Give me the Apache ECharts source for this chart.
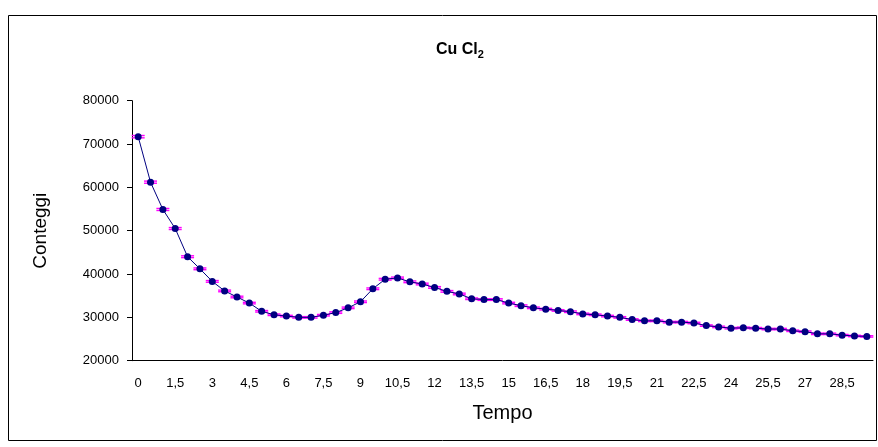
<!DOCTYPE html>
<html>
<head>
<meta charset="utf-8">
<script src="https://cdn.jsdelivr.net/npm/echarts@6/dist/echarts.min.js"></script>
<style>
  html, body { margin: 0; padding: 0; background: #fff; }
  #grafico { width: 878px; height: 447px; }
</style>
</head>
<body>
<div id="grafico"></div>
<script>
// tempo (categorie, passo 0,5)
var tempi = ['0', '0,5', '1', '1,5', '2', '2,5', '3', '3,5', '4', '4,5',
    '5', '5,5', '6', '6,5', '7', '7,5', '8', '8,5', '9', '9,5',
    '10', '10,5', '11', '11,5', '12', '12,5', '13', '13,5', '14', '14,5',
    '15', '15,5', '16', '16,5', '17', '17,5', '18', '18,5', '19', '19,5',
    '20', '20,5', '21', '21,5', '22', '22,5', '23', '23,5', '24', '24,5',
    '25', '25,5', '26', '26,5', '27', '27,5', '28', '28,5', '29', '29,5'];

// conteggi
var conteggi = [71700, 61200, 54900, 50500, 44000, 41200, 38300, 36100, 34700, 33300,
    31400, 30600, 30300, 30000, 30000, 30500, 31100, 32200, 33600, 36600,
    38800, 39100, 38200, 37700, 36900, 36000, 35400, 34300, 34100, 34100,
    33300, 32700, 32200, 31900, 31600, 31300, 30800, 30600, 30300, 30000,
    29500, 29200, 29200, 28900, 28900, 28700, 28100, 27800, 27500, 27600,
    27500, 27300, 27300, 26900, 26700, 26200, 26200, 25900, 25700, 25600];

// errori (barre rosa)
var errori = [268, 247, 234, 225, 210, 203, 196, 190, 186, 182,
    177, 175, 174, 173, 173, 175, 176, 179, 183, 191,
    197, 198, 195, 194, 192, 190, 188, 185, 185, 185,
    182, 181, 179, 179, 178, 177, 175, 175, 174, 173,
    172, 171, 171, 170, 170, 169, 168, 167, 166, 166,
    166, 165, 165, 164, 163, 162, 162, 161, 160, 160];

var yTicks = [20000, 30000, 40000, 50000, 60000, 70000, 80000];

var chartDom = document.getElementById('grafico');
var myChart = echarts.init(chartDom);

var datiErrori = conteggi.map(function (v, i) {
    return [i, v - errori[i], v + errori[i]];
});

var option = {
    animation: false,
    textStyle: { fontFamily: 'Liberation Sans, Arial, sans-serif' },
    graphic: [{
        type: 'rect',
        shape: { x: 8.5, y: 15.5, width: 868, height: 425 },
        style: { fill: 'none', stroke: '#000', lineWidth: 1 },
        silent: true
    }],
    title: {
        text: '{a|Cu Cl}{b|2}',
        left: 431,
        top: 35,
        textStyle: {
            rich: {
                a: { fontSize: 16, fontWeight: 'bold', color: '#000', fontFamily: 'Liberation Sans' },
                b: { fontSize: 11, fontWeight: 'bold', color: '#000', fontFamily: 'Liberation Sans', verticalAlign: 'bottom', padding: [9, 0, 0, 0] }
            }
        }
    },
    grid: { left: 132, right: 5, top: 100.7, bottom: 86.3 },
    xAxis: {
        type: 'category',
        data: tempi,
        boundaryGap: true,
        name: 'Tempo',
        nameLocation: 'middle',
        nameGap: 43,
        nameTextStyle: { fontSize: 20, color: '#000', fontFamily: 'Liberation Sans' },
        axisLine: { lineStyle: { color: '#000', width: 1 } },
        axisTick: { interval: 2, length: 5, lineStyle: { color: '#000' } },
        axisLabel: { interval: 2, fontSize: 13, color: '#000', margin: 16, fontFamily: 'Liberation Sans' },
        splitLine: { show: false }
    },
    yAxis: {
        type: 'value',
        min: yTicks[0],
        max: yTicks[yTicks.length - 1],
        interval: 10000,
        name: 'Conteggi',
        nameLocation: 'middle',
        nameGap: 82,
        nameTextStyle: { fontSize: 19, color: '#000', fontFamily: 'Liberation Sans' },
        axisLine: { show: true, lineStyle: { color: '#000', width: 1 } },
        axisTick: { show: true, length: 5, lineStyle: { color: '#000' } },
        axisLabel: {
            fontSize: 13, color: '#000', margin: 13, fontFamily: 'Liberation Sans',
            formatter: function (v) { return String(v); }
        },
        splitLine: { show: false }
    },
    series: [
        {
            type: 'custom',
            name: 'errori',
            data: datiErrori,
            encode: { x: 0, y: [1, 2] },
            z: 2,
            renderItem: function (params, api) {
                var i = api.value(0);
                var lo = api.coord([i, api.value(1)]);
                var hi = api.coord([i, api.value(2)]);
                var w = 6.5;
                var st = { stroke: '#FF00FF', lineWidth: 1.4 };
                return {
                    type: 'group',
                    children: [
                        { type: 'line', shape: { x1: lo[0], y1: lo[1], x2: hi[0], y2: hi[1] }, style: st },
                        { type: 'line', shape: { x1: lo[0] - w, y1: lo[1], x2: lo[0] + w, y2: lo[1] }, style: st },
                        { type: 'line', shape: { x1: hi[0] - w, y1: hi[1], x2: hi[0] + w, y2: hi[1] }, style: st }
                    ]
                };
            }
        },
        {
            type: 'line',
            name: 'Cu Cl2',
            data: conteggi,
            z: 3,
            symbol: 'circle',
            symbolSize: 7,
            lineStyle: { color: '#000080', width: 1 },
            itemStyle: { color: '#000080' }
        }
    ]
};

option && myChart.setOption(option);
</script>
</body>
</html>
